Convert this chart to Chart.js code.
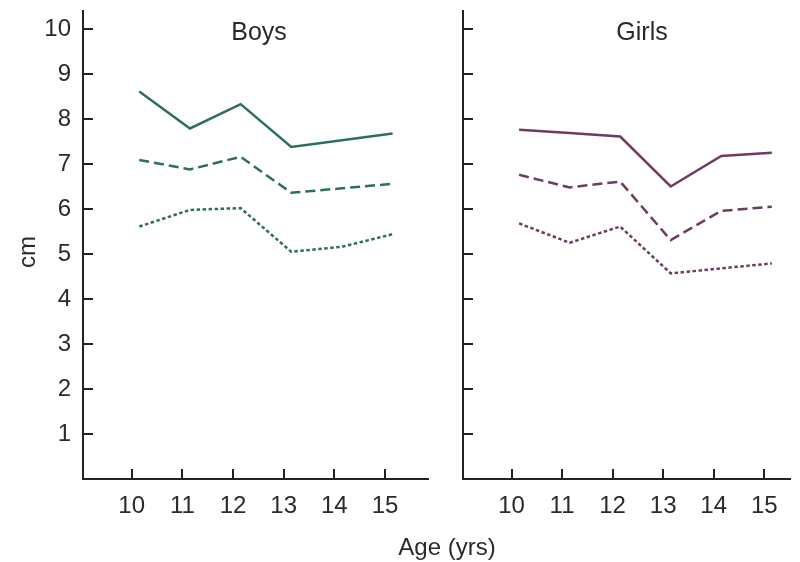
<!DOCTYPE html>
<html>
<head>
<meta charset="utf-8">
<script src="https://cdn.jsdelivr.net/npm/chart.js@4/dist/chart.umd.min.js"></script>
<style>
  html, body { margin: 0; padding: 0; background: #fff; }
  #wrap { position: relative; width: 800px; height: 562px; overflow: hidden; font-family: "Liberation Sans", Arial, sans-serif; color: #2a2a2a; }
  .panel { position: absolute; top: 0; height: 562px; }
  .lbl { position: absolute; white-space: nowrap; transform: translate(-50%, -50%); }
</style>
</head>
<body>
<div id="wrap">
  <div class="panel" style="left:0;width:440px"><canvas id="boys"></canvas></div>
  <div class="panel" style="left:440px;width:360px"><canvas id="girls"></canvas></div>
  <div class="lbl" style="left:259px;top:31px;font-size:25px">Boys</div>
  <div class="lbl" style="left:642px;top:31px;font-size:25px">Girls</div>
  <div class="lbl" style="left:27px;top:252px;font-size:24px;transform:translate(-50%,-50%) rotate(-90deg)">cm</div>
  <div class="lbl" style="left:447px;top:547px;font-size:24px">Age (yrs)</div>
</div>
<script>
// Age at measurement (years)
const ages = [10.15, 11.15, 12.15, 13.15, 14.15, 15.15];
const xTicks = [10, 11, 12, 13, 14, 15];
const yTicks = [1, 2, 3, 4, 5, 6, 7, 8, 9, 10];

// Boys (cm)
const boysUpper = [8.61, 7.79, 8.33, 7.38, 7.53, 7.68];
const boysMiddle = [7.09, 6.88, 7.16, 6.36, 6.46, 6.56];
const boysLower = [5.61, 5.98, 6.02, 5.05, 5.16, 5.44];

// Girls (cm)
const girlsUpper = [7.76, 7.69, 7.61, 6.50, 7.18, 7.25];
const girlsMiddle = [6.76, 6.48, 6.61, 5.31, 5.96, 6.05];
const girlsLower = [5.68, 5.25, 5.61, 4.57, 4.68, 4.79];

const BOYS_COLOR = '#2d6e63';
const GIRLS_COLOR = '#6e3b62';
const AXIS_COLOR = '#222';
const TEXT_COLOR = '#2a2a2a';
const FONT = '"Liberation Sans", Arial, sans-serif';

function series(values, color, dash) {
  return {
    data: ages.map((a, i) => ({ x: a, y: values[i] })),
    borderColor: color,
    borderWidth: 2.5,
    borderDash: dash,
    pointRadius: 0,
    fill: false,
    tension: 0
  };
}

// Short tick marks pointing into the plot area
const innerTicks = {
  id: 'innerTicks',
  afterDraw(chart) {
    const { ctx, chartArea, scales } = chart;
    ctx.save();
    ctx.strokeStyle = AXIS_COLOR;
    ctx.lineWidth = 2;
    ctx.beginPath();
    yTicks.forEach(v => {
      const y = Math.round(scales.y.getPixelForValue(v));
      ctx.moveTo(chartArea.left, y);
      ctx.lineTo(chartArea.left + 10, y);
    });
    xTicks.forEach(v => {
      const x = Math.round(scales.x.getPixelForValue(v));
      ctx.moveTo(x, chartArea.bottom);
      ctx.lineTo(x, chartArea.bottom - 10);
    });
    ctx.stroke();
    ctx.restore();
  }
};

function makeChart(id, datasets, opts) {
  return new Chart(document.getElementById(id), {
    type: 'line',
    data: { datasets },
    plugins: [innerTicks],
    options: {
      responsive: true,
      maintainAspectRatio: false,
      animation: false,
      layout: { padding: { top: 11, right: opts.rightPad, bottom: 0, left: 0 } },
      plugins: { legend: { display: false }, tooltip: { enabled: false } },
      scales: {
        x: {
          type: 'linear',
          min: opts.xMin,
          max: opts.xMax,
          afterBuildTicks: s => { s.ticks = xTicks.map(v => ({ value: v })); },
          afterFit: s => { s.height = 83; s.paddingLeft = 0; s.paddingRight = 0; },
          grid: { drawOnChartArea: false, drawTicks: false },
          border: { display: true, color: AXIS_COLOR, width: 2 },
          ticks: { color: TEXT_COLOR, font: { family: FONT, size: 24 }, padding: 13, maxRotation: 0 }
        },
        y: {
          type: 'linear',
          min: 0,
          max: 10.4,
          afterBuildTicks: s => { s.ticks = yTicks.map(v => ({ value: v })); },
          afterFit: s => { s.width = opts.yWidth; s.paddingTop = 0; s.paddingBottom = 0; },
          grid: { drawOnChartArea: false, drawTicks: false },
          border: { display: true, color: AXIS_COLOR, width: 2 },
          ticks: { display: opts.yLabels, color: TEXT_COLOR, font: { family: FONT, size: 24 }, padding: 12 }
        }
      }
    }
  });
}

makeChart('boys', [
  series(boysUpper, BOYS_COLOR, []),
  series(boysMiddle, BOYS_COLOR, [10, 5]),
  series(boysLower, BOYS_COLOR, [3.5, 2.5])
], { xMin: 9.039, xMax: 15.849, rightPad: 12, yWidth: 83, yLabels: true });

makeChart('girls', [
  series(girlsUpper, GIRLS_COLOR, []),
  series(girlsMiddle, GIRLS_COLOR, [10, 5]),
  series(girlsLower, GIRLS_COLOR, [3.5, 2.5])
], { xMin: 9.04, xMax: 15.51, rightPad: 10, yWidth: 23, yLabels: false });
</script>
</body>
</html>
